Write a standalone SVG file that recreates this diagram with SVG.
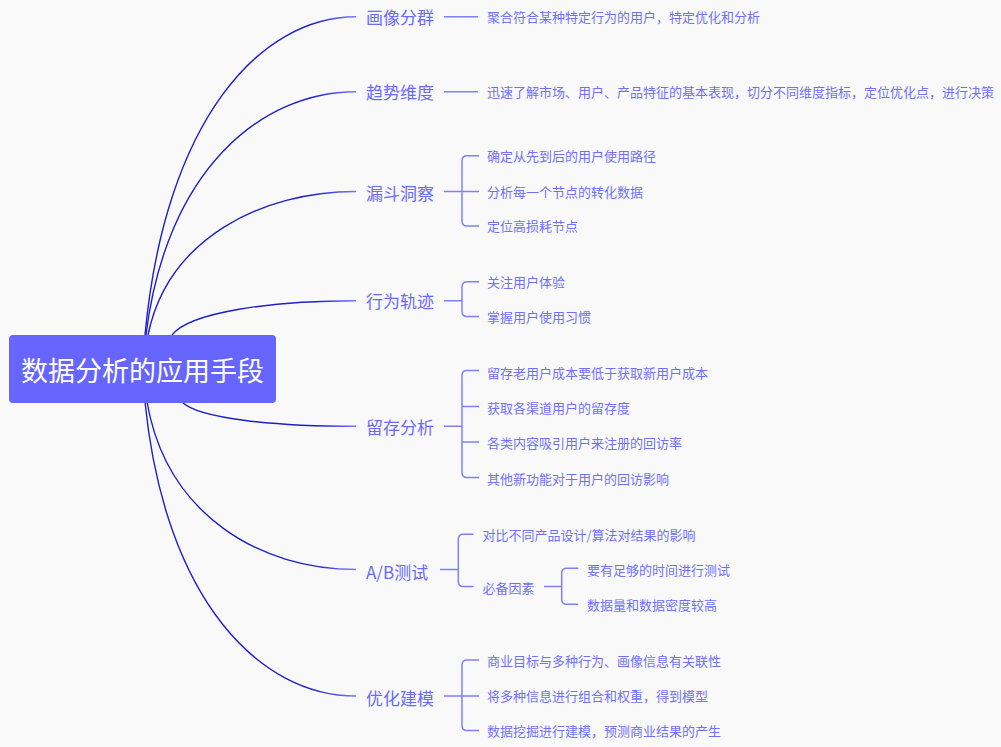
<svg xmlns="http://www.w3.org/2000/svg" width="1001" height="747" viewBox="0 0 1001 747">
<defs>
<linearGradient id="cg" x1="0" y1="0" x2="1" y2="0">
<stop offset="0" stop-color="#1e1ecc"/>
<stop offset="0.78" stop-color="#1e1ecc"/>
<stop offset="1" stop-color="#7777ff"/>
</linearGradient>
<style>
.curve{fill:none;stroke:url(#cg);stroke-width:1.4}
.br{fill:none;stroke:#8080ff;stroke-width:1.5}
.topic{font-family:"Noto Sans CJK SC","Noto Sans",sans-serif;font-size:17px;fill:#6a6aff;dominant-baseline:central}
.leaf{font-family:"Noto Sans CJK SC","Noto Sans",sans-serif;font-size:13px;fill:#7070ff;dominant-baseline:central}
.root{font-family:"Noto Sans CJK SC","Noto Sans",sans-serif;font-size:27px;fill:#ffffff;dominant-baseline:central;text-anchor:middle}
</style>
</defs>
<rect width="1001" height="747" fill="#f9f9f9"/>
<g id="connectors">
<path class="curve" d="M145,335 C165,120.5 260,16.7 356,16.7"/>
<path class="curve" d="M146,335 C166,171 260.5,91.7 356,91.7"/>
<path class="curve" d="M148,335 C167.8,238.6 261.4,191.5 356,191.5"/>
<path class="curve" d="M172,335 C189.5,312 272.3,300.7 356,300.7"/>
<path class="curve" d="M182,402 C198.5,418.8 276.8,426.3 356,426.3"/>
<path class="curve" d="M147,402 C166.9,515.6 260.9,569.5 356,569.5"/>
<path class="curve" d="M145,402 C165,600.8 260,696 356,696"/>
<path class="br" d="M444,16.7 H478"/>
<path class="br" d="M444,91.7 H478"/>
<path class="br" d="M444,191.5 H479 M479,155.8 H467 Q462,155.8 462,160.8 V221 Q462,226 467,226 H479"/>
<path class="br" d="M444,300.7 H462 M479,281.7 H467 Q462,281.7 462,286.7 V311.5 Q462,316.5 467,316.5 H479"/>
<path class="br" d="M444,426.3 H462 M479,370.5 H467 Q462,370.5 462,375.5 V472.5 Q462,477.5 467,477.5 H479 M462,406.5 H479 M462,442 H479"/>
<path class="br" d="M440,569.5 H458.3 M473.5,534.3 H463.3 Q458.3,534.3 458.3,539.3 V581.5 Q458.3,586.5 463.3,586.5 H473.5"/>
<path class="br" d="M544,586.5 H561.7 M578.3,568.3 H566.7 Q561.7,568.3 561.7,573.3 V599.3 Q561.7,604.3 566.7,604.3 H578.3"/>
<path class="br" d="M444,696 H479 M479,660 H467 Q462,660 462,665 V725.5 Q462,730.5 467,730.5 H479"/>
</g>
<g id="root">
<rect x="9" y="335" width="267" height="68" rx="4" fill="#6666ff"/>
<text class="root" x="142.5" y="369.5">数据分析的应用手段</text>
</g>
<g id="topic-huaxiang">
<text class="topic" x="366" y="16.5">画像分群</text>
<text class="leaf" x="487" y="16">聚合符合某种特定行为的用户，特定优化和分析</text>
</g>
<g id="topic-qushi">
<text class="topic" x="366" y="91.5">趋势维度</text>
<text class="leaf" x="487" y="91">迅速了解市场、用户、产品特征的基本表现，切分不同维度指标，定位优化点，进行决策</text>
</g>
<g id="topic-loudou">
<text class="topic" x="366" y="192">漏斗洞察</text>
<text class="leaf" x="487" y="155.5">确定从先到后的用户使用路径</text>
<text class="leaf" x="487" y="191">分析每一个节点的转化数据</text>
<text class="leaf" x="487" y="225.5">定位高损耗节点</text>
</g>
<g id="topic-xingwei">
<text class="topic" x="366" y="300.5">行为轨迹</text>
<text class="leaf" x="487" y="281">关注用户体验</text>
<text class="leaf" x="487" y="316">掌握用户使用习惯</text>
</g>
<g id="topic-liucun">
<text class="topic" x="366" y="426.5">留存分析</text>
<text class="leaf" x="487" y="372">留存老用户成本要低于获取新用户成本</text>
<text class="leaf" x="487" y="407">获取各渠道用户的留存度</text>
<text class="leaf" x="487" y="442.5">各类内容吸引用户来注册的回访率</text>
<text class="leaf" x="487" y="478">其他新功能对于用户的回访影响</text>
</g>
<g id="topic-ab">
<text class="topic" x="366" y="571">A/B测试</text>
<text class="leaf" x="482.5" y="534">对比不同产品设计/算法对结果的影响</text>
<text class="leaf" x="482.5" y="587">必备因素</text>
<text class="leaf" x="587" y="569.5">要有足够的时间进行测试</text>
<text class="leaf" x="587" y="604.5">数据量和数据密度较高</text>
</g>
<g id="topic-youhua">
<text class="topic" x="366" y="697">优化建模</text>
<text class="leaf" x="487" y="660">商业目标与多种行为、画像信息有关联性</text>
<text class="leaf" x="487" y="695.5">将多种信息进行组合和权重，得到模型</text>
<text class="leaf" x="487" y="730.5">数据挖掘进行建模，预测商业结果的产生</text>
</g>
</svg>
